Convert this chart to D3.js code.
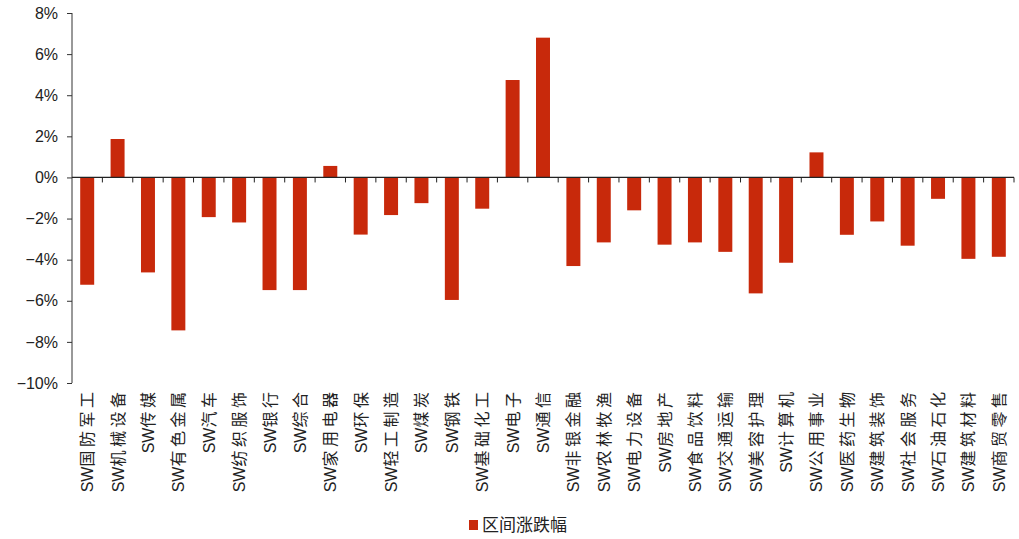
<!DOCTYPE html>
<html><head><meta charset="utf-8">
<script src="https://cdn.jsdelivr.net/npm/d3@7"></script>
<style>body{margin:0;background:#fff}svg{display:block}</style>
</head><body>
<script>
const categories = ["SW国防军工","SW机械设备","SW传媒","SW有色金属","SW汽车","SW纺织服饰","SW银行","SW综合","SW家用电器","SW环保","SW轻工制造","SW煤炭","SW钢铁","SW基础化工","SW电子","SW通信","SW非银金融","SW农林牧渔","SW电力设备","SW房地产","SW食品饮料","SW交通运输","SW美容护理","SW计算机","SW公用事业","SW医药生物","SW建筑装饰","SW社会服务","SW石油石化","SW建筑材料","SW商贸零售"];
const values = [-5.22,1.87,-4.62,-7.44,-1.93,-2.19,-5.48,-5.48,0.56,-2.78,-1.83,-1.25,-5.96,-1.52,4.74,6.8,-4.31,-3.16,-1.6,-3.27,-3.16,-3.62,-5.64,-4.15,1.22,-2.79,-2.14,-3.32,-1.04,-3.96,-3.86];
const yTicks = [8,6,4,2,0,-2,-4,-6,-8,-10];
const seriesName = "区间涨跌幅";

const W=1019,H=539;
const svg=d3.select("body").append("svg").attr("width",W).attr("height",H);
const x=d3.scaleBand().domain(categories).range([72,1014]).paddingInner(0.54).paddingOuter(0.27);
const y=d3.scaleLinear().domain([-10,8]).range([383,13]);
const font="Arial, 'Liberation Sans', 'Noto Sans CJK SC', sans-serif";
const red="#c8290b";

svg.append("g").selectAll("rect").data(values).join("rect")
 .attr("x",(d,i)=>x(categories[i]))
 .attr("width",x.bandwidth())
 .attr("y",d=>y(Math.max(0,d)))
 .attr("height",d=>Math.abs(y(d)-y(0)))
 .attr("fill",red);

// y axis
const ya=svg.append("g").attr("transform","translate(72,0)")
 .call(d3.axisLeft(y).tickValues(yTicks).tickSize(5).tickPadding(9).tickFormat(d=>(d<0?"\u2212"+(-d):d)+"%"));
ya.select(".domain").attr("stroke","#333").attr("d","M0,"+y(8)+"V"+y(-10));
ya.selectAll(".tick line").attr("stroke","#333");
ya.selectAll("text").attr("font-family",font).attr("font-size",16).attr("fill","#222");

// zero line with boundary ticks
const xa=svg.append("g");
xa.append("line").attr("x1",72).attr("x2",1014).attr("y1",y(0)).attr("y2",y(0)).attr("stroke","#222").attr("stroke-width",1.2);
const step=x.step();
const bounds=categories.map(c=>x(c)+x.bandwidth()+(step-x.bandwidth())/2);
xa.selectAll(".bt").data(bounds).join("line")
 .attr("x1",d=>d).attr("x2",d=>d).attr("y1",y(0)).attr("y2",y(0)+5).attr("stroke","#222");

// x labels
const lbl=svg.append("g").selectAll("text").data(categories).join("text")
 .attr("transform",d=>`translate(${x(d)+x.bandwidth()/2},388.5) rotate(-90)`)
 .attr("text-anchor","end").attr("dominant-baseline","central")
 .attr("font-family",font).attr("font-size",16).attr("fill","#222");
lbl.append("tspan").text(d=>d.slice(0,2));
lbl.append("tspan").attr("letter-spacing",3.5).text(d=>d.slice(2));

// legend
const lg=svg.append("g");
lg.append("rect").attr("x",469).attr("y",520).attr("width",9).attr("height",10).attr("fill",red);
lg.append("text").attr("x",482).attr("y",525).attr("dominant-baseline","central")
 .attr("font-family",font).attr("font-size",17).attr("fill","#222").text(seriesName);
</script>
</body></html>
